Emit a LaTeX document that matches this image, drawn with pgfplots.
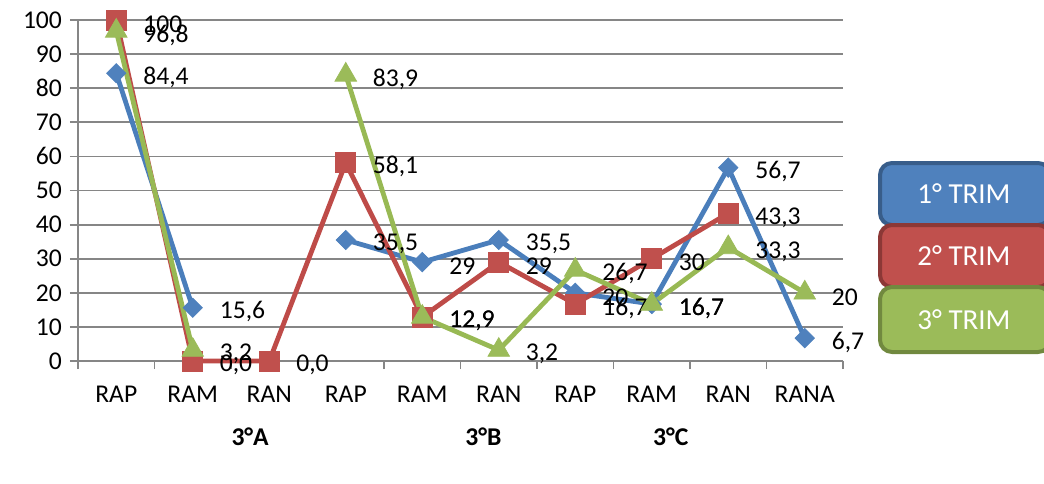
\documentclass[border=0pt]{standalone}
\usepackage{fontspec}
\setmainfont{Carlito}
\usepackage{pgfplots}
\usepackage{pgfplotstable}
\pgfplotsset{compat=1.18}

\definecolor{cblue}{HTML}{4A7EBB}
\definecolor{cred}{HTML}{BE4B48}
\definecolor{cgreen}{HTML}{98B954}
\definecolor{bblue}{HTML}{4F81BD}
\definecolor{bred}{HTML}{C0504D}
\definecolor{bgreen}{HTML}{9BBB59}
\definecolor{dblue}{HTML}{385D8A}
\definecolor{dred}{HTML}{8C3836}
\definecolor{dgreen}{HTML}{71893F}
\definecolor{axgray}{HTML}{868686}

% x: 0-2 = 3°A, 3-5 = 3°B, 6-9 = 3°C
\pgfplotstableread{
x y lab
0 84.4 84,4
1 15.6 15,6
2 nan -
3 35.5 35,5
4 29 29
5 35.5 35,5
6 20 20
7 16.7 16,7
8 56.7 56,7
9 6.7 6,7
}\trimone

\pgfplotstableread{
x y lab
0 100 100
1 0 0,0
2 0 0,0
3 58.1 58,1
4 12.9 12,9
5 29 29
6 16.7 16,7
7 30 30
8 43.3 43,3
9 nan -
}\trimtwo

\pgfplotstableread{
x y lab
0 96.8 96,8
1 3.2 3,2
2 nan -
3 83.9 83,9
4 12.9 12,9
5 3.2 3,2
6 26.7 26,7
7 16.7 16,7
8 33.3 33,3
9 20 20
}\trimthree

\newcommand{\lblfont}{\fontsize{12.8}{14}\selectfont}
\newcommand{\legfont}{\fontsize{14.5}{16}\selectfont}

\begin{document}
\begin{tikzpicture}
\useasboundingbox (-39pt,-61pt) rectangle (483pt,180.5pt);
\begin{axis}[
    at={(0,0)}, anchor=south west,
    scale only axis,
    width=382.5pt, height=170.5pt,
    xmin=-0.5, xmax=9.5, ymin=0, ymax=100,
    clip=false,
    unbounded coords=jump,
    axis x line*=bottom, axis y line*=left,
    axis line style={axgray, line width=0.9pt},
    xtick={0,...,9},
    xticklabels={RAP,RAM,RAN,RAP,RAM,RAN,RAP,RAM,RAN,RANA},
    minor xtick={-0.5,0.5,...,9.5},
    major x tick style={draw=none},
    minor x tick style={axgray, line width=0.9pt},
    ytick={0,10,...,100},
    ytick style={axgray, line width=0.9pt},
    tick align=outside,
    major tick length=4pt, minor tick length=4pt,
    ymajorgrids,
    grid style={axgray, line width=0.9pt},
    tick label style={font=\lblfont},
    xticklabel style={yshift=-5pt},
    yticklabel style={xshift=-0.5pt},
    /pgf/number format/assume math mode=true,
    nodes near coords,
    point meta=explicit symbolic,
    every node near coord/.append style={font=\lblfont, text=black, anchor=west, xshift=10pt, yshift=-2pt},
]
\addplot[cblue, line width=2.4pt, mark=square*, mark options={solid, rotate=45, fill=bblue, draw=bblue, line width=0.4pt, mark size=3.4pt}]
    table[x=x, y=y, meta=lab] {\trimone};
\addplot[cred, line width=2.4pt, mark=square*, mark options={solid, fill=bred, draw=bred, line width=0.4pt, mark size=5pt}]
    table[x=x, y=y, meta=lab] {\trimtwo};
\addplot[cgreen, line width=2.4pt, mark=triangle*, mark options={solid, fill=bgreen, draw=bgreen, line width=0.4pt, mark size=6.2pt}]
    table[x=x, y=y, meta=lab] {\trimthree};

\node[font=\lblfont\bfseries] at (axis cs:1.75,0) [yshift=-38pt] {3°A};
\node[font=\lblfont\bfseries] at (axis cs:4.8,0) [yshift=-38pt] {3°B};
\node[font=\lblfont\bfseries] at (axis cs:7.25,0) [yshift=-38pt] {3°C};
\end{axis}

% legend boxes
\draw[rounded corners=6pt, draw=dblue, line width=2pt, fill=bblue] (401pt,68pt) rectangle (486pt,99pt);
\node[text=white, font=\legfont] at (443pt,83.5pt) {1° TRIM};
\draw[rounded corners=6pt, draw=dred, line width=2pt, fill=bred] (401pt,37pt) rectangle (486pt,68pt);
\node[text=white, font=\legfont] at (443pt,52.5pt) {2° TRIM};
\draw[rounded corners=6pt, draw=dgreen, line width=2pt, fill=bgreen] (401pt,4.5pt) rectangle (486pt,37pt);
\node[text=white, font=\legfont] at (443pt,20.5pt) {3° TRIM};
\end{tikzpicture}
\end{document}
